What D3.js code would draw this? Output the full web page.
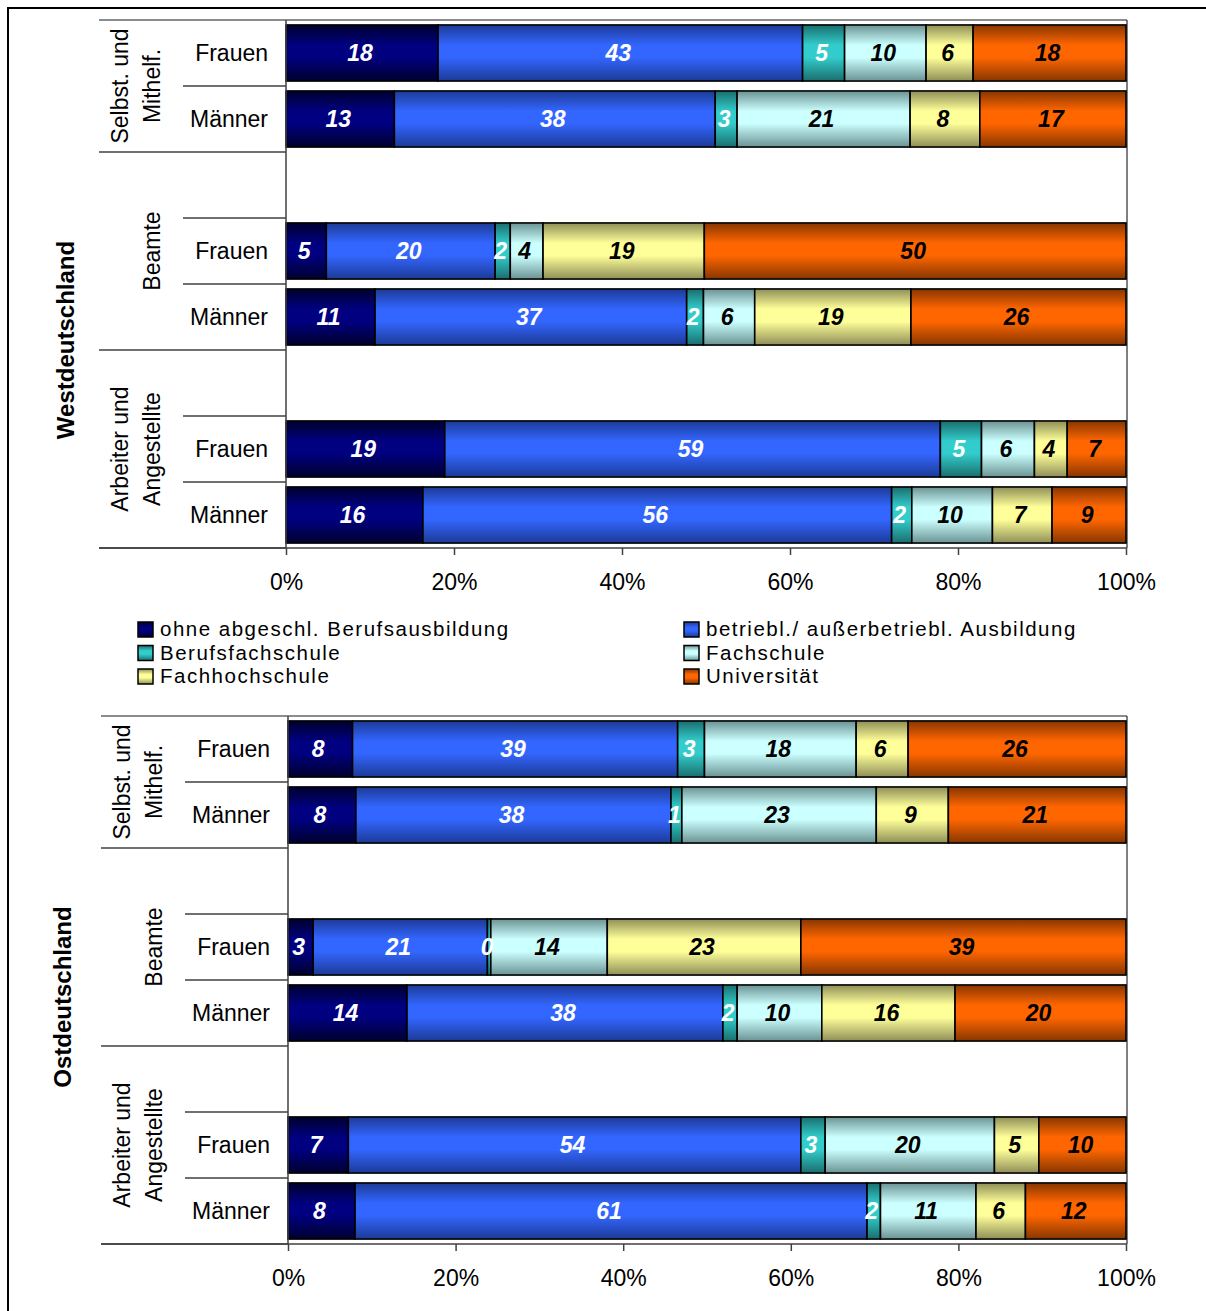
<!DOCTYPE html>
<html lang="de">
<head>
<meta charset="UTF-8">
<title>Berufsausbildung nach Stellung im Beruf</title>
<script src="https://d3js.org/d3.v7.min.js"></script>
<style>
  body { margin: 0; background: #fff; }
  svg { display: block; font-family: "Liberation Sans", Arial, sans-serif; }
</style>
</head>
<body>
<svg id="chart" width="1206" height="1311"></svg>
<script>
// --- data ---
const series = [
  "ohne abgeschl. Berufsausbildung",
  "betriebl./ außerbetriebl. Ausbildung",
  "Berufsfachschule",
  "Fachschule",
  "Fachhochschule",
  "Universität"
];
const groupLabels = [["Selbst. und", "Mithelf."], ["Beamte"], ["Arbeiter und", "Angestellte"]];
const subLabels = [["Frauen", "Männer"], ["", "Frauen", "Männer"], ["", "Frauen", "Männer"]];

// rows in order: Selbst F, Selbst M, Beamte F, Beamte M, Arbeiter F, Arbeiter M
const westValues = [
  [18.1, 43.4, 5.0, 9.7, 5.6, 18.2],
  [12.9, 38.2, 2.6, 20.6, 8.3, 17.4],
  [4.8, 20.1, 1.8, 3.9, 19.2, 50.2],
  [10.6, 37.1, 2.0, 6.1, 18.6, 25.6],
  [18.9, 59.0, 4.9, 6.3, 3.9, 7.0],
  [16.3, 55.8, 2.4, 9.6, 7.1, 8.8]
];
const eastValues = [
  [7.7, 38.8, 3.2, 18.1, 6.2, 26.0],
  [8.1, 37.6, 1.3, 23.2, 8.6, 21.2],
  [3.0, 20.8, 0.4, 13.9, 23.1, 38.8],
  [14.2, 37.7, 1.7, 10.1, 15.9, 20.4],
  [7.2, 54.0, 2.9, 20.2, 5.3, 10.4],
  [8.0, 61.1, 1.6, 11.4, 5.9, 12.0]
];
const tickValues = [0, 20, 40, 60, 80, 100];

// --- styles ---
const brightColors = ["#000080", "#3366ff", "#33cccc", "#ccffff", "#ffff99", "#ff6600"];
const darkColors   = ["#00002e", "#1c3a96", "#1a6e6e", "#6b9393", "#8f8f58", "#873600"];
const labelColors  = ["#fff", "#fff", "#fff", "#000", "#000", "#000"];

const svg = d3.select("#chart");

// outer frame
svg.append("rect")
  .attr("x", 8).attr("y", 8).attr("width", 1220).attr("height", 1330)
  .attr("fill", "none").attr("stroke", "#000").attr("stroke-width", 2);

// gradients (dark - bright - dark, top to bottom)
const defs = svg.append("defs");
brightColors.forEach((c, i) => {
  const g = defs.append("linearGradient")
    .attr("id", "grad" + i)
    .attr("x1", 0).attr("y1", 0).attr("x2", 0).attr("y2", 1);
  g.append("stop").attr("offset", "0%").attr("stop-color", darkColors[i]);
  g.append("stop").attr("offset", "36%").attr("stop-color", c);
  g.append("stop").attr("offset", "58%").attr("stop-color", c);
  g.append("stop").attr("offset", "100%").attr("stop-color", darkColors[i]);
});

// slots: every group + sub category (blank ones are spacer rows)
const slots = [];
groupLabels.forEach((g, gi) => {
  subLabels[gi].forEach((s, si) => {
    slots.push({ gi, si, key: gi + "-" + si, sub: s, first: si === 0 });
  });
});
const barSlots = slots.filter(d => d.sub !== "");

const stack = d3.stack()
  .keys(d3.range(series.length))
  .value((row, k) => row[k]);

function drawPanel(cfg) {
  const g = svg.append("g");
  const x = d3.scaleLinear().domain([0, 100]).range([cfg.left, cfg.right]);
  const y = d3.scaleBand()
    .domain(slots.map(d => d.key))
    .range([cfg.top, cfg.bottom])
    .paddingInner(0.15)
    .paddingOuter(0.075);
  const bound = d3.scaleLinear().domain([0, slots.length]).range([cfg.top, cfg.bottom]);

  // plot area border (top gray, right black)
  g.append("line")
    .attr("x1", cfg.left).attr("x2", cfg.right + 1)
    .attr("y1", cfg.top).attr("y2", cfg.top)
    .attr("stroke", "#8c8c8c").attr("stroke-width", 2);
  g.append("line")
    .attr("x1", cfg.right + 1).attr("x2", cfg.right + 1)
    .attr("y1", cfg.top).attr("y2", cfg.bottom)
    .attr("stroke", "#000").attr("stroke-width", 1);

  // stacked segments, flattened so labels are drawn on top of all bars
  const segs = [];
  stack(cfg.values).forEach(layer => {
    layer.forEach((seg, ri) => segs.push({ k: layer.key, ri, x0: seg[0], x1: seg[1] }));
  });

  g.append("g").selectAll("rect")
    .data(segs)
    .enter().append("rect")
    .attr("x", d => x(d.x0))
    .attr("y", d => y(barSlots[d.ri].key))
    .attr("width", d => x(d.x1) - x(d.x0))
    .attr("height", y.bandwidth())
    .attr("fill", d => "url(#grad" + d.k + ")")
    .attr("stroke", "#000")
    .attr("stroke-width", 1.6);

  g.append("g").selectAll("text")
    .data(segs)
    .enter().append("text")
    .attr("x", d => (x(d.x0) + x(d.x1)) / 2 - 2)
    .attr("y", d => y(barSlots[d.ri].key) + y.bandwidth() / 2)
    .attr("dy", "0.36em")
    .attr("text-anchor", "middle")
    .attr("font-size", 23)
    .attr("font-weight", "bold")
    .attr("font-style", "italic")
    .attr("fill", d => labelColors[d.k])
    .text(d => d3.format(".0f")(d.x1 - d.x0));

  // category separator lines
  d3.range(slots.length + 1).forEach(i => {
    const long = i === 0 || i === slots.length || slots[i].first;
    g.append("line")
      .attr("x1", long ? cfg.lineLong : cfg.lineShort)
      .attr("x2", cfg.left)
      .attr("y1", bound(i)).attr("y2", bound(i))
      .attr("stroke", i === 0 ? "#8c8c8c" : "#404040")
      .attr("stroke-width", i === 0 ? 2 : 1.5);
  });

  // left axis line
  g.append("line")
    .attr("x1", cfg.left).attr("x2", cfg.left)
    .attr("y1", cfg.top).attr("y2", cfg.bottom)
    .attr("stroke", "#404040").attr("stroke-width", 1.5);

  // sub labels
  g.selectAll(".sub")
    .data(barSlots)
    .enter().append("text")
    .attr("class", "sub")
    .attr("x", cfg.subX)
    .attr("y", d => y(d.key) + y.bandwidth() / 2)
    .attr("dy", "0.36em")
    .attr("text-anchor", "end")
    .attr("font-size", 23)
    .text(d => d.sub);

  // group labels (rotated, lines stacked toward the inner side)
  groupLabels.forEach((lines, gi) => {
    const idx = slots.map((s, i) => s.gi === gi ? i : -1).filter(i => i >= 0);
    const cy = (bound(idx[0]) + bound(idx[idx.length - 1] + 1)) / 2;
    lines.forEach((ln, li) => {
      const cx = cfg.groupX - (lines.length - 1 - li) * 32;
      g.append("text")
        .attr("transform", "translate(" + cx + "," + cy + ") rotate(-90)")
        .attr("dy", "0.36em")
        .attr("text-anchor", "middle")
        .attr("font-size", 23)
        .text(ln);
    });
  });

  // x axis
  g.append("line")
    .attr("x1", cfg.lineLong).attr("x2", cfg.right + 1)
    .attr("y1", cfg.bottom).attr("y2", cfg.bottom)
    .attr("stroke", "#404040").attr("stroke-width", 1.5);

  const axis = d3.axisBottom(x)
    .tickValues(tickValues)
    .tickSize(7)
    .tickPadding(19)
    .tickFormat(d => d + "%");
  const ax = g.append("g")
    .attr("transform", "translate(0," + cfg.bottom + ")")
    .call(axis);
  ax.select(".domain").remove();
  ax.selectAll(".tick line").attr("stroke", "#404040").attr("stroke-width", 1.5);
  ax.selectAll(".tick text")
    .attr("font-size", 23)
    .attr("font-family", "\"Liberation Sans\", Arial, sans-serif")
    .attr("fill", "#000");

  // panel title
  g.append("text")
    .attr("transform", "translate(" + cfg.titleX + "," + cfg.titleY + ") rotate(-90)")
    .attr("dy", "0.36em")
    .attr("text-anchor", "middle")
    .attr("font-size", 24)
    .attr("font-weight", "bold")
    .text(cfg.title);
}

drawPanel({
  title: "Westdeutschland", values: westValues,
  top: 20, bottom: 548, left: 286, right: 1126,
  lineLong: 99, lineShort: 183, subX: 268, groupX: 152,
  titleX: 65, titleY: 340
});
drawPanel({
  title: "Ostdeutschland", values: eastValues,
  top: 716, bottom: 1244, left: 288, right: 1126,
  lineLong: 101, lineShort: 185, subX: 270, groupX: 154,
  titleX: 62, titleY: 997
});

// legend (two columns, row-major order of the series)
const legendCols = [0, 1].map(c => series.map((s, i) => ({ s, i })).filter(d => d.i % 2 === c));
const legendX = [138, 684];
const legendY = 629, legendRow = 23.5;

legendCols.forEach((items, c) => {
  const col = svg.append("g").attr("transform", "translate(" + legendX[c] + "," + legendY + ")");
  col.selectAll("rect")
    .data(items)
    .enter().append("rect")
    .attr("x", 0).attr("y", (d, r) => r * legendRow - 7)
    .attr("width", 15).attr("height", 15)
    .attr("fill", d => "url(#grad" + d.i + ")")
    .attr("stroke", "#000").attr("stroke-width", 1.5);
  col.selectAll("text")
    .data(items)
    .enter().append("text")
    .attr("x", 22)
    .attr("y", (d, r) => r * legendRow)
    .attr("dy", "0.36em")
    .attr("font-size", 20.5)
    .attr("letter-spacing", "1.5px")
    .text(d => d.s);
});
</script>
</body>
</html>
